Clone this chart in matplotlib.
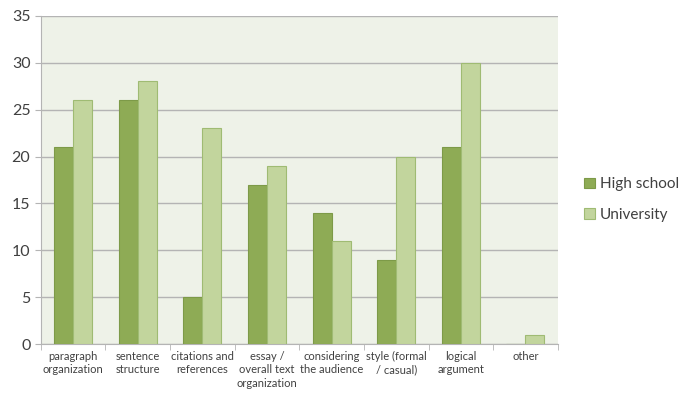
import numpy as np
import matplotlib.pyplot as plt

categories = ["paragraph\norganization", "sentence\nstructure", "citations and\nreferences",
              "essay /\noverall text\norganization", "considering\nthe audience",
              "style (formal\n/ casual)", "logical\nargument", "other"]
high_school = [21, 26, 5, 17, 14, 9, 21, 0]
university = [26, 28, 23, 19, 11, 20, 30, 1]

plt.rcParams['font.family'] = ['Lato', 'DejaVu Sans']

fig = plt.figure(figsize=(6.81, 3.96), dpi=100)
ax = fig.add_axes([0.060, 0.131, 0.759, 0.829])
ax.set_facecolor('#eef2e8')

x = np.arange(len(categories))
w = 0.295
ax.bar(x - w/2, high_school, w, color='#8eab55', edgecolor='#7d9a48', linewidth=0.8,
       label='High school', zorder=3)
ax.bar(x + w/2, university, w, color='#c2d59d', edgecolor='#9fbb73', linewidth=0.8,
       label='University', zorder=3)

ax.set_xlim(-0.5, len(categories) - 0.5)
ax.set_ylim(0, 35)
ax.set_yticks(range(0, 36, 5))
ax.yaxis.grid(True, color='#b4b4b4', linewidth=1.0, zorder=0)
ax.tick_params(axis='y', labelsize=11.5, length=4, color='#b4b4b4', labelcolor='#404040')

ax.set_xticks(x)
ax.set_xticklabels(categories, fontsize=8, color='#404040', linespacing=1.25)
ax.set_xticks(np.arange(-0.5, len(categories), 1), minor=True)
ax.tick_params(axis='x', which='major', length=0, pad=5)
ax.tick_params(axis='x', which='minor', length=4, color='#b4b4b4')

for s in ['top', 'right']:
    ax.spines[s].set_visible(False)
for s in ['left', 'bottom']:
    ax.spines[s].set_color('#b4b4b4')

ax.legend(loc='center left', bbox_to_anchor=(1.025, 0.44), frameon=False, fontsize=11,
          handlelength=0.7, handleheight=0.7, handletextpad=0.3, labelspacing=1.1,
          labelcolor='#404040')

fig.savefig('out.png', dpi=100)
